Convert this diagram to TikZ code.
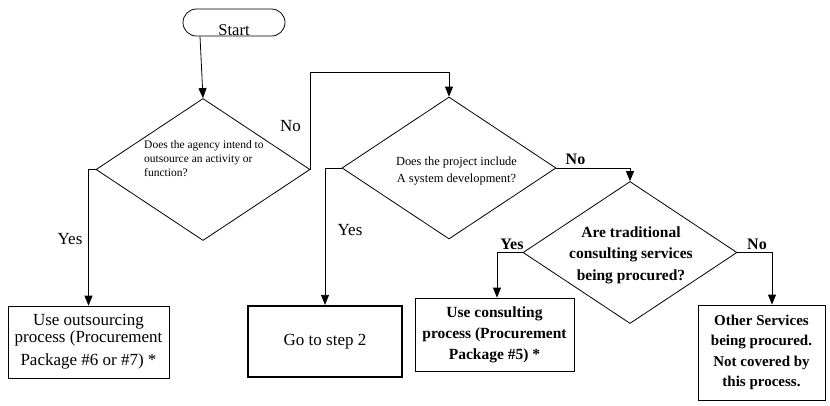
\documentclass[tikz,border=0pt]{standalone}
\usepackage{fontspec}
\setmainfont{Liberation Serif}
\usetikzlibrary{arrows.meta,shapes.geometric}

\begin{document}
\begin{tikzpicture}[x=1pt, y=-1pt]
\useasboundingbox (0,0) rectangle (830,405);

\coordinate (S_1) at (234, 22.5);
\coordinate (D_1) at (203, 169.5);
\coordinate (D_2) at (449, 168);
\coordinate (D_3) at (630, 252.5);
\coordinate (B_1) at (88.5, 342);
\coordinate (B_2) at (325, 341.5);
\coordinate (B_3) at (494.5, 334.5);
\coordinate (B_4) at (761.5, 352.5);
\coordinate (T_1) at (309, 72);


\tikzset{TerminalStyle/.style = {draw, line width=0.8pt,
 rounded corners=13.5pt,
 minimum width=102pt, minimum height=27pt,
 inner ysep=1pt, text height=25pt, text depth=0pt,
 font=\fontsize{16.5}{18}\selectfont} }

\tikzset{DecisionStyle/.style = {draw, line width=0.8pt,
 shape=diamond, inner sep=0pt,
 minimum width=214pt, minimum height=142pt} }

\tikzset{BoxStyle/.style = {draw, line width=0.8pt,
 shape=rectangle, align=center,
 inner xsep=2pt, inner ysep=0pt} }

\node[TerminalStyle] (S) at (S_1) {Start};
\node[DecisionStyle] (D1) at (D_1) {};
\node[DecisionStyle] (D2) at (D_2) {};
\node[DecisionStyle] (D3) at (D_3) {};

\node[align=left, anchor=west, inner sep=0pt,
 font=\fontsize{11.5}{14}\selectfont] (T1) at (144, 159)
 {Does the agency intend to\\outsource an activity or\\function?};
\node[align=center, inner sep=0pt,
 font=\fontsize{12.4}{17}\selectfont] (T2) at (456.5, 171.5)
 {Does the project include\\A system development?};
\node[align=center, inner sep=0pt,
 font=\fontsize{15.5}{21.5}\selectfont\bfseries] (T3) at (631, 255)
 {Are traditional\\consulting services\\being procured?};

\node[BoxStyle, minimum width=161pt, minimum height=72pt,
 font=\fontsize{17}{17}\selectfont] (B1) at (B_1)
 {Use outsourcing\\process (Procurement\\[6pt]Package \#6 or \#7) *};
\node[BoxStyle, line width=2.2pt, minimum width=154pt, minimum height=71pt,
 font=\fontsize{17}{19}\selectfont] (B2) at (B_2) {Go to step 2};
\node[BoxStyle, minimum width=159pt, minimum height=73pt,
 font=\fontsize{15.5}{21}\selectfont\bfseries] (B3) at (B_3)
 {Use consulting\\process (Procurement\\Package \#5) *};
\node[BoxStyle, minimum width=127pt, minimum height=95pt,
 font=\fontsize{15}{20.5}\selectfont\bfseries] (B4) at (B_4)
 {Other Services\\being procured.\\Not covered by\\this process.};


\tikzset{LabelStyle/.style = {anchor=base, inner sep=0pt,
 font=\fontsize{17}{17}\selectfont} }
\tikzset{BoldLabelStyle/.style = {LabelStyle,
 font=\fontsize{16}{16}\selectfont\bfseries} }

\node[LabelStyle] (L1) at (290.5, 131) {No};
\node[LabelStyle] (L2) at (70, 244) {Yes};
\node[LabelStyle] (L3) at (350, 235) {Yes};
\node[BoldLabelStyle] (L4) at (575.5, 164) {No};
\node[BoldLabelStyle] (L5) at (512, 249) {Yes};
\node[BoldLabelStyle] (L6) at (757, 249) {No};


\tikzset{FlowStyle/.style = {line width=0.8pt,
 -{Triangle[width=8pt, length=10pt]}} }

\draw[FlowStyle] ([xshift=-34pt]S.south) -- (D1.north);
\draw[FlowStyle] (D1.east) -- (D1.east |- T_1) -| (D2.north);
\draw[FlowStyle] (D1.west) -| (B1.north);
\draw[FlowStyle] (D2.east) -| (D3.north);
\draw[FlowStyle] (D2.west) -| (B2.north);
\draw[FlowStyle] (D3.west) -| ([xshift=2.5pt]B3.north);
\draw[FlowStyle] (D3.east) -| ([xshift=10.5pt]B4.north);

\end{tikzpicture}
\end{document}
